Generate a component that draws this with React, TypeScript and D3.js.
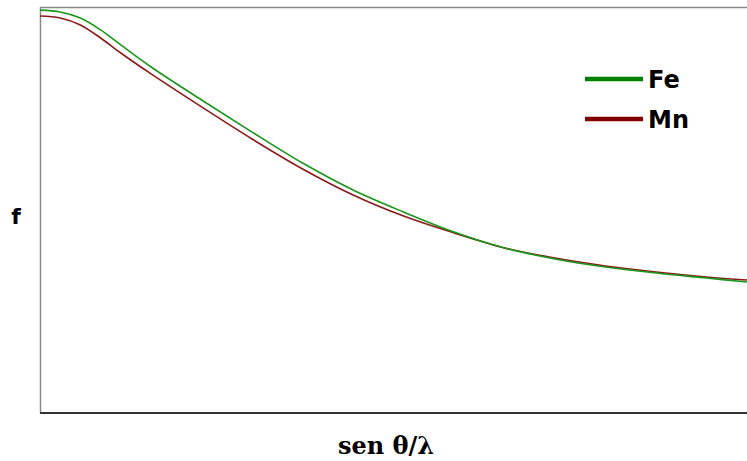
import React from "react";
import * as d3 from "d3";

const sinThetaOverLambda = [0, 0.04, 0.08, 0.12, 0.16, 0.22, 0.32, 0.42, 0.52, 0.62, 0.72, 0.82, 0.92, 1.02, 1.12, 1.22, 1.32, 1.4];
const feValues = [26.0, 25.88, 25.49, 24.72, 23.75, 22.33, 20.2, 18.13, 16.13, 14.39, 12.97, 11.68, 10.65, 9.94, 9.42, 9.03, 8.71, 8.45];
const mnValues = [25.62, 25.49, 25.04, 24.2, 23.23, 21.88, 19.75, 17.68, 15.75, 14.07, 12.71, 11.62, 10.65, 10.0, 9.49, 9.1, 8.78, 8.58];
const seriesNames = ["Fe", "Mn"];
const seriesColors = ["#1a961a", "#8b1a1a"];
const legendColors = ["#008000", "#800000"];
const xLabel = "sen θ/λ";
const yLabel = "f";

const W = 747;
const H = 461;
const left = 40;
const right = 747;
const top = 7;
const bottom = 413;

export default function App() {
  const x = d3.scaleLinear().domain([0, 1.4]).range([left, right]);
  const y = d3.scaleLinear().domain([0, 26.2]).range([bottom, top]);
  const line = d3
    .line<[number, number]>()
    .x((d) => x(d[0]))
    .y((d) => y(d[1]))
    .curve(d3.curveCatmullRom.alpha(0.5));
  const series = [feValues, mnValues];
  return (
    <svg
      width={W}
      height={H}
      style={{ position: "absolute", left: 0, top: 0, display: "block", background: "#fff" }}
    >
      <line x1={left} x2={right} y1={top + 0.5} y2={top + 0.5} stroke="#8a8a8a" strokeWidth={1.5} />
      <line x1={left + 0.5} x2={left + 0.5} y1={top} y2={bottom} stroke="#8a8a8a" strokeWidth={1.5} />
      <line x1={left} x2={right} y1={bottom} y2={bottom} stroke="#333" strokeWidth={2} />
      {series
        .map((vals, i) => (
          <path
            key={seriesNames[i]}
            d={line(sinThetaOverLambda.map((v, j) => [v, vals[j]] as [number, number])) || ""}
            fill="none"
            stroke={seriesColors[i]}
            strokeWidth={1.6}
          />
        ))
        .reverse()}
      {seriesNames.map((name, i) => (
        <g key={name} transform={`translate(585, ${79 + i * 40})`}>
          <line x1={0} x2={58} y1={0} y2={0} stroke={legendColors[i]} strokeWidth={4.5} />
          <text
            x={63}
            y={9}
            fontFamily="DejaVu Sans, sans-serif"
            fontWeight="bold"
            fontSize={24}
            fill="#000"
          >
            {name}
          </text>
        </g>
      ))}
      <text
        x={16}
        y={224}
        textAnchor="middle"
        fontFamily="DejaVu Sans, sans-serif"
        fontWeight="bold"
        fontSize={22}
        fill="#000"
      >
        {yLabel}
      </text>
      <text
        x={386}
        y={454}
        textAnchor="middle"
        fontFamily="DejaVu Serif, serif"
        fontWeight="bold"
        fontSize={24}
        fill="#000"
      >
        {xLabel}
      </text>
    </svg>
  );
}
